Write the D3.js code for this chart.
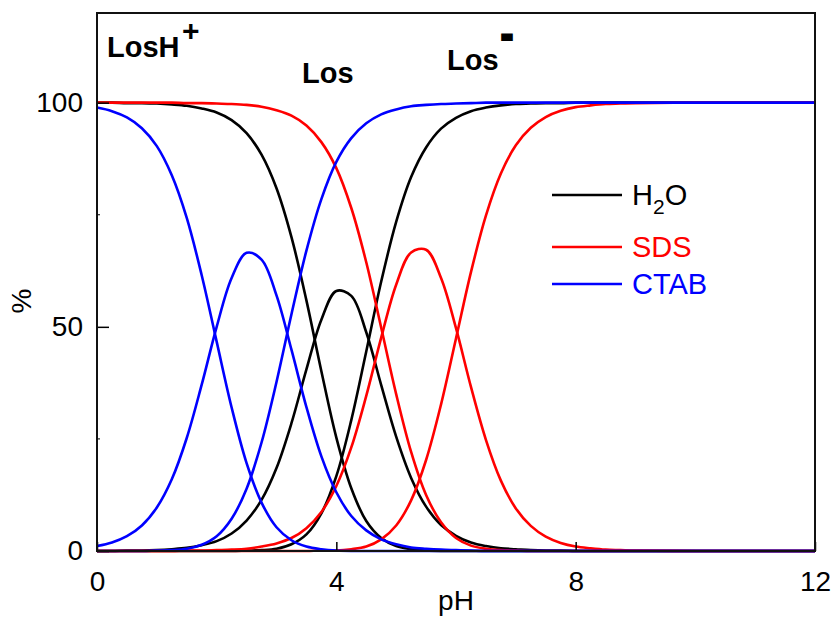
<!DOCTYPE html>
<html>
<head>
<meta charset="utf-8">
<script src="https://cdn.jsdelivr.net/npm/d3@7"></script>
<style>
  html, body { margin: 0; padding: 0; background: #fff; }
  svg { display: block; font-family: "Liberation Sans", Arial, sans-serif; }
</style>
</head>
<body>
<svg id="chart" width="836" height="631"></svg>
<script>
// pH grid of the speciation curves
const pH = [0, 0.25, 0.5, 0.75, 1, 1.25, 1.5, 1.75, 2, 2.25, 2.5, 2.75, 3, 3.25, 3.5, 3.75,
            4, 4.25, 4.5, 4.75, 5, 5.25, 5.5, 5.75, 6, 6.25, 6.5, 6.75, 7, 7.25, 7.5, 7.75,
            8, 8.25, 8.5, 8.75, 9, 10, 11, 12];

// Species fractions (%) in water
const h2oLosH = [100.0, 100.0, 99.9, 99.9, 99.8, 99.6, 99.3, 98.7, 97.8, 96.1, 93.2, 88.4, 80.9, 70.0, 55.9, 40.1,
                 25.3, 14.0, 6.7, 2.9, 1.1, 0.4, 0.1, 0.0, 0, 0, 0, 0, 0, 0, 0, 0,
                 0, 0, 0, 0, 0, 0, 0, 0];
const h2oLos = [0.0, 0.0, 0.1, 0.1, 0.2, 0.4, 0.7, 1.3, 2.2, 3.9, 6.8, 11.4, 18.5, 28.5, 40.5, 51.6,
                58.0, 56.9, 48.8, 37.0, 25.5, 16.3, 9.9, 5.8, 3.4, 1.9, 1.1, 0.6, 0.4, 0.2, 0.1, 0.1,
                0.0, 0, 0, 0, 0, 0, 0, 0];
const h2oLosMinus = [0, 0, 0, 0, 0, 0, 0, 0, 0, 0, 0.1, 0.2, 0.5, 1.5, 3.7, 8.4,
                     16.7, 29.2, 44.5, 60.1, 73.4, 83.4, 90.0, 94.2, 96.6, 98.1, 98.9, 99.4, 99.7, 99.8, 99.9, 99.9,
                     100, 100, 100, 100, 100, 100, 100, 100];

// Species fractions (%) in SDS
const sdsLosH = [100, 100, 100, 100, 100, 100, 99.9, 99.9, 99.8, 99.7, 99.5, 99.1, 98.3, 97.1, 94.9, 91.2,
                 85.4, 76.5, 64.4, 49.8, 35.0, 22.1, 12.5, 6.4, 2.9, 1.2, 0.5, 0.2, 0.1, 0, 0, 0,
                 0, 0, 0, 0, 0, 0, 0, 0];
const sdsLos = [0, 0, 0, 0, 0, 0, 0.1, 0.1, 0.2, 0.3, 0.5, 1.0, 1.7, 2.9, 5.1, 8.7,
                14.5, 23.1, 34.6, 47.6, 59.4, 66.6, 67.2, 60.9, 49.7, 36.6, 24.8, 15.7, 9.5, 5.6, 3.2, 1.8,
                1.0, 0.6, 0.3, 0.2, 0.1, 0, 0, 0];
const sdsLosMinus = [0, 0, 0, 0, 0, 0, 0, 0, 0, 0, 0, 0, 0, 0, 0, 0.1,
                     0.1, 0.4, 1.0, 2.6, 5.7, 11.3, 20.3, 32.7, 47.4, 62.2, 74.8, 84.2, 90.5, 94.4, 96.8, 98.2,
                     99.0, 99.4, 99.7, 99.8, 99.9, 100, 100, 100];

// Species fractions (%) in CTAB
const ctabLosH = [98.9, 98.1, 96.7, 94.3, 90.3, 83.8, 74.3, 61.5, 46.7, 32.0, 19.6, 10.8, 5.3, 2.4, 1.0, 0.4,
                  0.1, 0.0, 0, 0, 0, 0, 0, 0, 0, 0, 0, 0, 0, 0, 0, 0,
                  0, 0, 0, 0, 0, 0, 0, 0];
const ctabLos = [1.1, 1.9, 3.3, 5.7, 9.7, 16.0, 25.2, 37.1, 50.0, 60.9, 66.5, 65.0, 57.0, 44.9, 32.1, 21.1,
                 13.1, 7.8, 4.6, 2.6, 1.5, 0.8, 0.5, 0.3, 0.2, 0.1, 0, 0, 0, 0, 0, 0,
                 0, 0, 0, 0, 0, 0, 0, 0];
const ctabLosMinus = [0, 0, 0, 0, 0.1, 0.2, 0.5, 1.4, 3.3, 7.2, 13.9, 24.2, 37.7, 52.8, 67.0, 78.5,
                      86.8, 92.1, 95.4, 97.4, 98.5, 99.2, 99.5, 99.7, 99.8, 99.9, 100, 100, 100, 100, 100, 100,
                      100, 100, 100, 100, 100, 100, 100, 100];

const media = ["H2O", "SDS", "CTAB"];
const mediaColors = ["#000000", "#ff0000", "#0000ff"];
const xTicks = [0, 4, 8, 12];
const yTicks = [0, 50, 100];

const series = [
  { medium: 0, values: [h2oLosH, h2oLos, h2oLosMinus] },
  { medium: 1, values: [sdsLosH, sdsLos, sdsLosMinus] },
  { medium: 2, values: [ctabLosH, ctabLos, ctabLosMinus] }
];

const svg = d3.select("#chart");
const plotLeft = 97, plotRight = 815, plotTop = 13, plotBottom = 551;

const x = d3.scaleLinear().domain([0, 12]).range([plotLeft, plotRight]);
const y = d3.scaleLinear().domain([0, 120]).range([plotBottom, plotTop]);

svg.append("rect").attr("width", 836).attr("height", 631).attr("fill", "#fff");

// curves
const line = d3.line()
  .x(d => x(d[0]))
  .y(d => y(d[1]))
  .curve(d3.curveCatmullRom.alpha(0.5));

const curveGroup = svg.append("g").attr("fill", "none").attr("stroke-width", 2.6)
  .attr("stroke-linejoin", "round");
series.forEach(s => {
  s.values.forEach(vals => {
    curveGroup.append("path")
      .attr("d", line(pH.map((p, i) => [p, vals[i]])))
      .attr("stroke", mediaColors[s.medium]);
  });
});

// axes
const xAxis = svg.append("g").attr("transform", `translate(0,${plotBottom})`)
  .call(d3.axisBottom(x).tickValues(xTicks).tickFormat(d3.format("d"))
    .tickSizeInner(-9).tickSizeOuter(0).tickPadding(20));
const yAxis = svg.append("g").attr("transform", `translate(${plotLeft},0)`)
  .call(d3.axisLeft(y).tickValues(yTicks).tickFormat(d3.format("d"))
    .tickSizeInner(-12).tickSizeOuter(0).tickPadding(14));
[xAxis, yAxis].forEach(g => {
  g.select(".domain").remove();
  g.selectAll("line").attr("stroke", "#000").attr("stroke-width", 1.5);
  g.selectAll("text").attr("font-size", 28).attr("fill", "#000")
    .attr("font-family", "'Liberation Sans', Arial, sans-serif");
});
// minor ticks on the left edge
svg.append("g").selectAll("line").data([25, 75]).join("line")
  .attr("x1", plotLeft).attr("x2", plotLeft + 3)
  .attr("y1", d => y(d)).attr("y2", d => y(d))
  .attr("stroke", "#000").attr("stroke-width", 1);

// frame
svg.append("rect")
  .attr("x", plotLeft).attr("y", plotTop)
  .attr("width", plotRight - plotLeft).attr("height", plotBottom - plotTop)
  .attr("fill", "none").attr("stroke", "#111").attr("stroke-width", 2);

// axis titles
svg.append("text").attr("x", (plotLeft + plotRight) / 2).attr("y", 610)
  .attr("text-anchor", "middle").attr("font-size", 28).text("pH");
svg.append("text").attr("transform", "translate(31,301) rotate(-90)")
  .attr("text-anchor", "middle").attr("font-size", 28).text("%");

// species labels
const sp = svg.append("g").attr("font-weight", "bold").attr("fill", "#000");
sp.append("text").attr("x", 107).attr("y", 57).attr("font-size", 29).text("LosH");
sp.append("text").attr("x", 182).attr("y", 41).attr("font-size", 30).text("+");
sp.append("text").attr("x", 302).attr("y", 83).attr("font-size", 29).text("Los");
sp.append("text").attr("x", 447).attr("y", 70).attr("font-size", 29).text("Los");
// heavy superscript minus: a bold hyphen thickened with an outline
sp.append("text").attr("x", 502).attr("y", 45).attr("font-size", 30)
  .attr("stroke", "#000").attr("stroke-width", 4).attr("stroke-linejoin", "miter")
  .text("-");

// legend
const lg = svg.append("g");
const legendRows = [
  { y: 195, base: 205 },
  { y: 247, base: 257 },
  { y: 284, base: 294 }
];
media.forEach((m, i) => {
  lg.append("line").attr("x1", 552).attr("x2", 622)
    .attr("y1", legendRows[i].y).attr("y2", legendRows[i].y)
    .attr("stroke", mediaColors[i]).attr("stroke-width", 2.6);
  const t = lg.append("text").attr("x", 632).attr("y", legendRows[i].base)
    .attr("font-size", 29).attr("fill", mediaColors[i]);
  if (m === "H2O") {
    t.append("tspan").text("H");
    t.append("tspan").attr("font-size", 21).attr("dy", 9).text("2");
    t.append("tspan").attr("dy", -9).text("O");
  } else {
    t.text(m);
  }
});
</script>
</body>
</html>
